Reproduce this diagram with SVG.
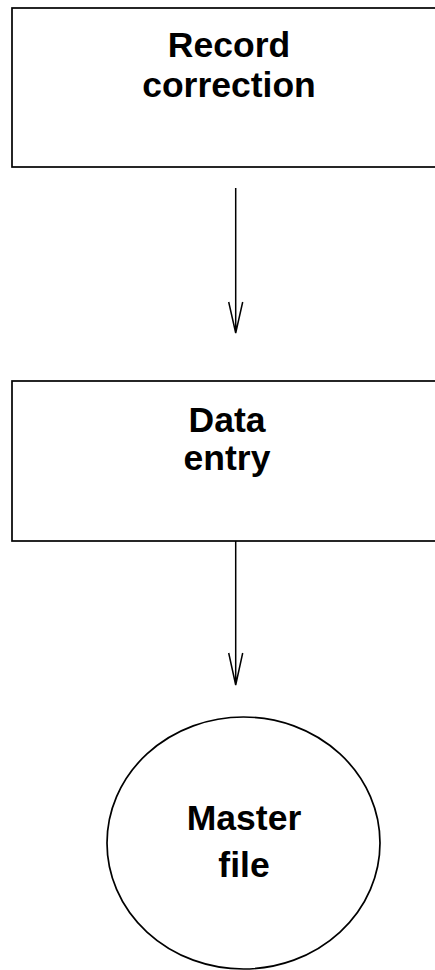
<svg xmlns="http://www.w3.org/2000/svg" width="435" height="970" viewBox="0 0 435 970">
<style>
.box{fill:#fff;stroke:#000;stroke-width:1.7}
.lbl{font-family:"Liberation Sans",Arial,sans-serif;font-weight:bold;font-size:35.5px;fill:#000;text-anchor:middle}
.edge{fill:none;stroke:#000;stroke-width:1.5}
</style>
<rect width="435" height="970" fill="#fff"/>
<g id="node-record">
<rect class="box" x="12" y="8" width="440" height="159"/>
<text class="lbl" x="229" y="57.3">Record</text>
<text class="lbl" x="229" y="96.7">correction</text>
</g>
<g id="node-data">
<rect class="box" x="12" y="381" width="440" height="160"/>
<text class="lbl" x="227" y="431.7">Data</text>
<text class="lbl" x="227" y="470">entry</text>
</g>
<g id="node-master">
<ellipse class="box" cx="243.5" cy="843" rx="136.5" ry="126"/>
<text class="lbl" x="244" y="830">Master</text>
<text class="lbl" x="244" y="876.7">file</text>
</g>
<g id="connectors">
<path class="edge" d="M235.7 188 V333 M228.7 302 L235.7 333 L242.7 302"/>
<path class="edge" d="M235.7 541 V685 M228.7 653 L235.7 685 L242.7 653"/>
</g>
</svg>
